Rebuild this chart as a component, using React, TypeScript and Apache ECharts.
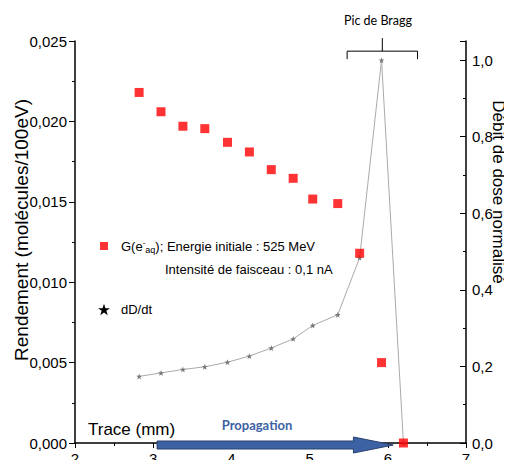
import React, { useEffect, useRef } from 'react';
import * as echarts from 'echarts';

const traceMm = [2.82, 3.10, 3.38, 3.66, 3.95, 4.23, 4.51, 4.79, 5.04, 5.36, 5.64, 5.92, 6.20];
const rendement = [0.0218, 0.0206, 0.0197, 0.01955, 0.0187, 0.0181, 0.0170, 0.01646, 0.01517, 0.01489, 0.0118, 0.0050, 0.0];
const debitDose = [0.174, 0.183, 0.192, 0.199, 0.211, 0.227, 0.248, 0.272, 0.307, 0.335, 0.484, 1.0, 0.0];

const seriesG = 'G(e-aq); Energie initiale : 525 MeV';
const seriesD = 'dD/dt';
const legendNote = 'Intensité de faisceau : 0,1 nA';
const braggLabel = 'Pic de Bragg';
const arrowLabel = 'Propagation';
const xName = 'Trace (mm)';
const rightName = 'Débit de dose normalisé';

const STAR = 'path://M50,0 L61.8,35.4 L99,35.4 L69,57.3 L80.3,92.7 L50,70.8 L19.7,92.7 L31,57.3 L1,35.4 L38.2,35.4 Z';
const FONT = '"Liberation Sans", Arial, sans-serif';

export default function App() {
  const ref = useRef<HTMLDivElement>(null);
  useEffect(() => {
    const chart = echarts.init(ref.current!, null, { renderer: 'svg' });
    const option: any = {
      animation: false,
      textStyle: { fontFamily: FONT },
      grid: { left: 75, right: 46, top: 41, bottom: 25, outerBoundsMode: 'none', containLabel: false },
      xAxis: {
        type: 'value', min: 2, max: 7, interval: 1,
        axisLine: { show: true, lineStyle: { color: '#000', width: 1.5 } },
        axisTick: { show: true, length: 5, lineStyle: { color: '#000' } },
        minorTick: { show: true, splitNumber: 2, length: 3, lineStyle: { color: '#000' } },
        splitLine: { show: false },
        axisLabel: { color: '#000', fontSize: 15, margin: 8, fontFamily: FONT },
      },
      yAxis: [
        {
          type: 'value', min: 0, max: 0.025, interval: 0.005,
          name: 'Rendement (molécules/100eV)', nameLocation: 'middle', nameGap: 44, nameRotate: 90,
          nameMoveOverlap: false,
          nameTextStyle: { fontSize: 19, color: '#000', fontFamily: FONT, padding: [0, 0, 0, 24] },
          axisLine: { show: true, lineStyle: { color: '#000', width: 1.5 } },
          axisTick: { show: true, length: 6, lineStyle: { color: '#000' } },
          minorTick: { show: true, splitNumber: 2, length: 3, lineStyle: { color: '#000' } },
          splitLine: { show: false },
          axisLabel: { color: '#000', fontSize: 15, margin: 8, fontFamily: FONT, formatter: (v: number) => v.toFixed(3).replace('.', ',') },
        },
        {
          type: 'value', min: 0, max: 1.05, interval: 0.2, position: 'right',
          axisLine: { show: true, lineStyle: { color: '#000', width: 1.5 } },
          axisTick: { show: true, inside: true, length: 6, lineStyle: { color: '#000' } },
          minorTick: { show: true, splitNumber: 2, length: 3, lineStyle: { color: '#000' } },
          splitLine: { show: false },
          axisLabel: { color: '#000', fontSize: 15, margin: 6, fontFamily: FONT, formatter: (v: number) => v.toFixed(1).replace('.', ','),
            showMaxLabel: false },
        },
      ],
      legend: [
        {
          left: 95, top: 233, orient: 'vertical', itemWidth: 8, itemHeight: 8,
          data: [{ name: seriesG, icon: 'rect' }],
          formatter: () => 'G(e{sup|-}{sub|aq}); Energie initiale : 525 MeV',
          textStyle: {
            fontSize: 13, color: '#000', fontFamily: FONT, padding: [0, 0, 0, 8],
            rich: {
              sup: { fontSize: 8, fontFamily: FONT, verticalAlign: 'top', padding: [0, 0, 7, 0] },
              sub: { fontSize: 9, fontFamily: FONT, verticalAlign: 'bottom', padding: [7, 0, 0, 0] },
            },
          },
        },
        {
          left: 93, top: 298, orient: 'vertical', itemWidth: 12, itemHeight: 12,
          data: [{ name: seriesD, icon: STAR, itemStyle: { color: '#000' } }],
          textStyle: { fontSize: 13, color: '#000', fontFamily: FONT, padding: [0, 0, 0, 6] },
        },
      ],
      series: [
        {
          name: seriesD, type: 'line', yAxisIndex: 1,
          data: traceMm.map((x, i) => [x, debitDose[i]]),
          symbol: STAR, symbolSize: 6, showSymbol: true,
          lineStyle: { color: '#aaaaaa', width: 1 },
          itemStyle: { color: '#777777' },
          z: 2,
        },
        {
          name: seriesG, type: 'scatter', yAxisIndex: 0,
          data: traceMm.map((x, i) => [x, rendement[i]]),
          symbol: 'rect', symbolSize: [9, 9], clip: false,
          itemStyle: { color: '#ff0000' },
          z: 3,
        },
      ],
    };
    chart.setOption(option);

    const p = (x: number, y: number) => chart.convertToPixel({ xAxisIndex: 0, yAxisIndex: 1 }, [x, y]) as number[];
    const a0 = p(3.05, 0);
    const aHeadStart = p(5.56, 0);
    const aTip = p(6.07, 0);
    const peak = p(traceMm[11], debitDose[11]);
    const bL = p(5.48, 0)[0];
    const bR = p(6.38, 0)[0];
    const yb = peak[1] - 9;
    const ay = a0[1] + 2;
    const axisRight = p(7, 0)[0];

    chart.setOption({
      graphic: [
        {
          type: 'polygon', z: 10,
          shape: {
            points: [
              [a0[0], ay - 4], [aHeadStart[0], ay - 4], [aHeadStart[0], ay - 8], [aTip[0], ay],
              [aHeadStart[0], ay + 8], [aHeadStart[0], ay + 4], [a0[0], ay + 4],
            ],
          },
          style: { fill: '#3c62a4', stroke: '#26406e', lineWidth: 1 },
        },
        {
          type: 'text', z: 10, x: 257, y: 425,
          style: { text: arrowLabel, fill: '#3c62a4', font: 'bold 13px Lato, sans-serif', align: 'center', verticalAlign: 'middle' },
        },
        {
          type: 'text', z: 10, x: 88, y: 429,
          style: { text: xName, fill: '#000', font: `17px ${FONT}`, align: 'left', verticalAlign: 'middle' },
        },
        {
          type: 'text', z: 10, x: 165, y: 269,
          style: { text: legendNote, fill: '#000', font: `13px ${FONT}`, align: 'left', verticalAlign: 'middle' },
        },
        {
          type: 'text', z: 10, x: axisRight + 32, y: 192, rotation: -Math.PI / 2,
          style: { text: rightName, fill: '#000', font: `17px ${FONT}`, align: 'center', verticalAlign: 'middle' },
        },
        {
          type: 'polyline', z: 10,
          shape: { points: [[bL, yb + 8], [bL, yb], [bR, yb], [bR, yb + 8]] },
          style: { stroke: '#000', lineWidth: 1, fill: null },
        },
        {
          type: 'line', z: 10,
          shape: { x1: (bL + bR) / 2, y1: yb, x2: (bL + bR) / 2, y2: yb - 13 },
          style: { stroke: '#000', lineWidth: 1 },
        },
        {
          type: 'text', z: 10, x: 378, y: 20,
          style: { text: braggLabel, fill: '#000', font: '12.5px Lato, sans-serif', align: 'center', verticalAlign: 'middle' },
        },
      ],
    });
    return () => chart.dispose();
  }, []);
  return <div ref={ref} style={{ width: 512, height: 468, margin: -8 }} />;
}
